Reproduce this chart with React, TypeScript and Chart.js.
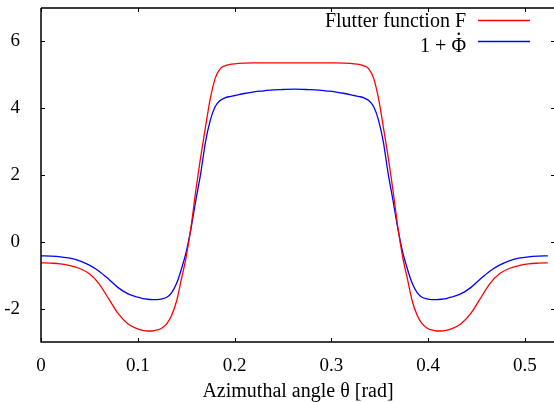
import React, { useEffect, useRef } from "react";
import { Chart, registerables } from "chart.js";

Chart.register(...registerables);

// Azimuthal angle theta [rad]
const thetaValues = [
  0, 0.01, 0.02, 0.03, 0.04, 0.05, 0.06, 0.07, 0.08, 0.09, 0.1, 0.105, 0.11, 0.115, 0.12, 0.125, 0.13,
  0.135, 0.14, 0.145, 0.15, 0.155, 0.16, 0.165, 0.17, 0.175, 0.18, 0.185, 0.19, 0.195, 0.2, 0.21, 0.22,
  0.23, 0.24, 0.25, 0.2618,
  0.2736, 0.2836, 0.2936, 0.3036, 0.3136, 0.3236, 0.3286, 0.3336, 0.3386, 0.3436, 0.3486, 0.3536,
  0.3586, 0.3636, 0.3686, 0.3736, 0.3786, 0.3836, 0.3886, 0.3936, 0.3986, 0.4036, 0.4086, 0.4136,
  0.4186, 0.4236, 0.4336, 0.4436, 0.4536, 0.4636, 0.4736, 0.4836, 0.4936, 0.5036, 0.5136, 0.5236,
];

// Flutter function F
const flutterF = [
  -0.63, -0.64, -0.66, -0.71, -0.8, -0.96, -1.26, -1.71, -2.16, -2.46, -2.61, -2.65, -2.67, -2.67, -2.64,
  -2.58, -2.45, -2.2, -1.78, -1.12, -0.45, 0.45, 1.55, 2.55, 3.45, 4.3, 4.9, 5.18, 5.27, 5.31, 5.33, 5.35,
  5.36, 5.36, 5.36, 5.36, 5.36,
  5.36, 5.36, 5.36, 5.36, 5.35, 5.33, 5.31, 5.27, 5.18, 4.9, 4.3, 3.45, 2.55, 1.55, 0.45, -0.45, -1.12,
  -1.78, -2.2, -2.45, -2.58, -2.64, -2.67, -2.67, -2.65, -2.61, -2.46, -2.16, -1.71, -1.26, -0.96, -0.8,
  -0.71, -0.66, -0.64, -0.63,
];

// 1 + Phi-dot
const onePlusPhiDot = [
  -0.42, -0.43, -0.45, -0.49, -0.57, -0.7, -0.88, -1.12, -1.38, -1.56, -1.66, -1.7, -1.72, -1.73, -1.73,
  -1.71, -1.66, -1.52, -1.25, -0.82, -0.3, 0.4, 1.25, 2.05, 3.0, 3.65, 4.05, 4.23, 4.31, 4.35, 4.38, 4.44,
  4.49, 4.52, 4.55, 4.56, 4.57,
  4.56, 4.55, 4.52, 4.49, 4.44, 4.38, 4.35, 4.31, 4.23, 4.05, 3.65, 3.0, 2.05, 1.25, 0.4, -0.3, -0.82,
  -1.25, -1.52, -1.66, -1.71, -1.73, -1.73, -1.72, -1.7, -1.66, -1.56, -1.38, -1.12, -0.88, -0.7, -0.57,
  -0.49, -0.45, -0.43, -0.42,
];

const xTickValues = [0, 0.1, 0.2, 0.3, 0.4, 0.5];
const yTickValues = [-2, 0, 2, 4, 6];
const seriesLabels = ["Flutter function F", "1 + \u03A6\u0307"];
const seriesColors = ["#ff0000", "#0000ff"];
const xAxisTitle = "Azimuthal angle \u03B8 [rad]";

const FONT = '"Liberation Serif", "Times New Roman", Times, serif';

// draw a label; a combining dot above (U+0307) is overprinted centred over the preceding glyph
function drawLabel(ctx: CanvasRenderingContext2D, label: string, xRight: number, y: number) {
  const idx = label.indexOf("\u0307");
  ctx.textAlign = "right";
  if (idx < 0) {
    ctx.fillText(label, xRight, y);
    return;
  }
  const base = label.slice(0, idx) + label.slice(idx + 1);
  ctx.fillText(base, xRight, y);
  const fullW = ctx.measureText(base).width;
  const before = ctx.measureText(label.slice(0, idx - 1)).width;
  const chW = ctx.measureText(label.charAt(idx - 1)).width;
  const cx = xRight - fullW + before + chW / 2;
  ctx.textAlign = "center";
  ctx.fillText(".", cx, y - 17);
}

const framePlugin = {
  id: "gnuplotFrame",
  afterDatasetsDraw(chart: any) {
    const { ctx, chartArea } = chart;
    const { left, right, top, bottom } = chartArea;
    const xs = chart.scales.x;
    const ys = chart.scales.y;
    ctx.save();
    // border
    ctx.strokeStyle = "#000";
    ctx.lineWidth = 1.5;
    ctx.beginPath();
    ctx.moveTo(left, top);
    ctx.lineTo(left, bottom);
    ctx.lineTo(right, bottom);
    ctx.lineTo(right, top);
    ctx.stroke();
    ctx.strokeStyle = "#3a3a3a";
    ctx.lineWidth = 2;
    ctx.beginPath();
    ctx.moveTo(left, top);
    ctx.lineTo(right, top);
    ctx.stroke();
    // inward ticks
    const tl = 4;
    ctx.strokeStyle = "#000";
    ctx.lineWidth = 1;
    ctx.beginPath();
    xTickValues.forEach((v) => {
      const px = Math.round(xs.getPixelForValue(v)) + 0.5;
      ctx.moveTo(px, bottom);
      ctx.lineTo(px, bottom - tl);
      ctx.moveTo(px, top);
      ctx.lineTo(px, top + tl);
    });
    yTickValues.forEach((v) => {
      const py = Math.round(ys.getPixelForValue(v)) + 0.5;
      ctx.moveTo(left, py);
      ctx.lineTo(left + tl, py);
      ctx.moveTo(right, py);
      ctx.lineTo(right - tl, py);
    });
    ctx.stroke();
    // legend (gnuplot style: text right-aligned, sample line to its right)
    const textRight = 466;
    const lineStart = 478;
    const lineEnd = 530;
    const lineYs = [20.5, 41.5];
    const baseYs = [27, 52];
    ctx.font = `20px ${FONT}`;
    ctx.textBaseline = "alphabetic";
    ctx.fillStyle = "#000";
    chart.data.datasets.forEach((ds: any, i: number) => {
      drawLabel(ctx, ds.label, textRight, baseYs[i]);
      ctx.strokeStyle = ds.borderColor;
      ctx.lineWidth = 1.3;
      ctx.beginPath();
      ctx.moveTo(lineStart, lineYs[i]);
      ctx.lineTo(lineEnd, lineYs[i]);
      ctx.stroke();
    });
    ctx.restore();
  },
};

export default function App() {
  const ref = useRef<HTMLCanvasElement | null>(null);

  useEffect(() => {
    if (!ref.current) return;
    const series = [flutterF, onePlusPhiDot];
    const chart = new Chart(ref.current, {
      type: "line",
      data: {
        datasets: series.map((vals, i) => ({
          label: seriesLabels[i],
          data: thetaValues.map((x, j) => ({ x, y: vals[j] })),
          borderColor: seriesColors[i],
          backgroundColor: seriesColors[i],
          borderWidth: 1.3,
          pointRadius: 0,
          cubicInterpolationMode: "monotone" as const,
          fill: false,
        })),
      },
      options: {
        animation: false,
        responsive: false,
        devicePixelRatio: 1,
        layout: { padding: { left: 0, top: 8, right: 45, bottom: 0 } },
        plugins: {
          legend: { display: false },
          tooltip: { enabled: false },
        },
        scales: {
          x: {
            type: "linear",
            min: 0,
            max: 0.531,
            grid: { display: false },
            border: { display: false },
            afterBuildTicks: (s: any) => {
              s.ticks = xTickValues.map((v) => ({ value: v }));
            },
            afterFit: (s: any) => {
              s.height = 62;
              s.paddingLeft = 0;
              s.paddingRight = 0;
            },
            ticks: {
              font: { family: FONT, size: 19 },
              color: "#000",
              padding: 5,
              maxRotation: 0,
              autoSkip: false,
              callback: (v: any) => String(v),
            },
            title: {
              display: true,
              text: xAxisTitle,
              font: { family: FONT, size: 20 },
              color: "#000",
              padding: 0,
            },
          },
          y: {
            type: "linear",
            min: -3,
            max: 7,
            grid: { display: false },
            border: { display: false },
            afterBuildTicks: (s: any) => {
              s.ticks = yTickValues.map((v) => ({ value: v }));
            },
            afterFit: (s: any) => {
              s.width = 41;
              s.paddingTop = 0;
              s.paddingBottom = 0;
            },
            ticks: {
              font: { family: FONT, size: 19 },
              color: "#000",
              padding: 13,
              autoSkip: false,
              callback: (v: any) => String(v),
            },
          },
        },
      },
      plugins: [framePlugin],
    });
    return () => chart.destroy();
  }, []);

  return (
    <div
      style={{
        position: "fixed",
        left: 0,
        top: 0,
        width: 554,
        height: 402,
        overflow: "hidden",
        background: "#fff",
      }}
    >
      <canvas ref={ref} width={600} height={404} style={{ width: 600, height: 404, display: "block" }} />
    </div>
  );
}
